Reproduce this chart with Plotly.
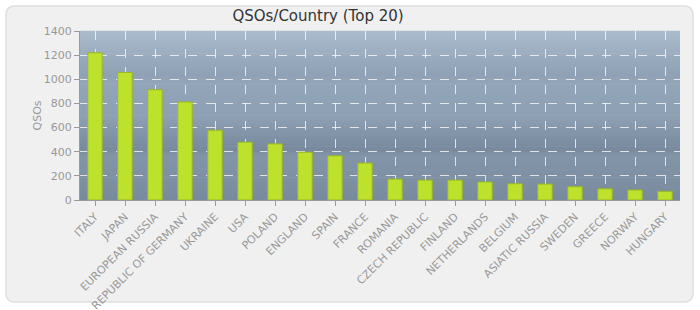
import plotly.graph_objects as go
import math

countries = ["ITALY", "JAPAN", "EUROPEAN RUSSIA", "FEDERAL REPUBLIC OF GERMANY", "UKRAINE",
             "USA", "POLAND", "ENGLAND", "SPAIN", "FRANCE", "ROMANIA", "CZECH REPUBLIC",
             "FINLAND", "NETHERLANDS", "BELGIUM", "ASIATIC RUSSIA", "SWEDEN", "GREECE",
             "NORWAY", "HUNGARY"]
qsos = [1220, 1057, 914, 812, 578, 479, 465, 396, 366, 306, 173, 165, 165, 149, 135,
        132, 110, 93, 83, 72]
y_ticks = [0, 200, 400, 600, 800, 1000, 1200, 1400]

W, H = 700, 310
L, R, T, B = 80, 20, 31, 110
pw, ph = W - L - R, H - T - B


def px(x):
    return (x - L) / pw


def py(y):
    return (H - B - y) / ph


def rounded_rect(x0, y0, x1, y1, r):
    pts = []
    corners = [(x1 - r, y0 + r, -90, 0), (x1 - r, y1 - r, 0, 90),
               (x0 + r, y1 - r, 90, 180), (x0 + r, y0 + r, 180, 270)]
    for cx, cy, a0, a1 in corners:
        for k in range(7):
            a = math.radians(a0 + (a1 - a0) * k / 6)
            pts.append((cx + r * math.cos(a), cy + r * math.sin(a)))
    return "M " + " L ".join(f"{px(x):.5f},{py(y):.5f}" for x, y in pts) + " Z"


shapes = []
shapes.append(dict(type="path", xref="paper", yref="paper", path=rounded_rect(6, 6, 693, 302, 8),
                   fillcolor="#f0f0f0", line=dict(color="#dedede", width=1.5), layer="below"))

stops = [(0.0, (0xaa, 0xbb, 0xcc)), (0.26, (0x8e, 0xa1, 0xb5)), (0.30, (0x93, 0xa5, 0xb8)),
         (0.52, (0x8d, 0x9f, 0xb2)), (0.70, (0x77, 0x89, 0x9d)), (0.74, (0x82, 0x94, 0xa7)),
         (0.85, (0x7f, 0x91, 0xa4)), (1.0, (0x78, 0x8a, 0x9d))]


def col_at(t):
    for (t0, c0), (t1, c1) in zip(stops[:-1], stops[1:]):
        if t0 <= t <= t1:
            f = (t - t0) / (t1 - t0) if t1 > t0 else 0
            return "rgb(%d,%d,%d)" % tuple(round(a + (b - a) * f) for a, b in zip(c0, c1))
    return "rgb(%d,%d,%d)" % stops[-1][1]


n = 60
for i in range(n):
    t = (i + 0.5) / n
    shapes.append(dict(type="rect", xref="x domain", yref="y domain", x0=0, x1=1,
                       y0=1 - (i + 1) / n - 0.002, y1=1 - i / n + 0.002,
                       fillcolor=col_at(t), line=dict(width=0), layer="below"))

fig = go.Figure(go.Bar(
    x=countries, y=qsos, width=0.48,
    marker=dict(color="#bce22b", line=dict(color="#9db526", width=1)),
))

fig.update_layout(
    width=W, height=H,
    margin=dict(l=L, r=R, t=T, b=B, autoexpand=False),
    paper_bgcolor="white", plot_bgcolor="#8d9fb2",
    shapes=shapes,
    showlegend=False,
    font=dict(family="DejaVu Sans, Verdana, sans-serif", size=11, color="#999999"),
    title=dict(text="QSOs/Country (Top 20)", x=318 / W, xanchor="center", y=1 - 16 / H,
               yanchor="middle", font=dict(size=15, color="#333333")),
    annotations=[dict(text="QSOs", textangle=-90, xref="paper", yref="paper",
                      x=px(37), y=0.5, xanchor="center", yanchor="middle", showarrow=False,
                      font=dict(size=11, color="#999999"))],
)
fig.update_xaxes(
    automargin=False,
    tickangle=-45, showline=True, linecolor="#9a9a9a", linewidth=1,
    ticks="outside", ticklen=5, tickcolor="#9a9a9a",
    showgrid=True, gridcolor="rgba(255,255,255,0.75)", griddash="dash", gridwidth=1,
    tickfont=dict(size=11, color="#999999"), range=[-0.5, 19.5],
)
fig.update_yaxes(
    automargin=False,
    range=[0, 1400], tickvals=y_ticks, showline=True, linecolor="#9a9a9a", linewidth=1,
    ticks="outside", ticklen=5, tickcolor="#9a9a9a",
    showgrid=True, gridcolor="rgba(255,255,255,0.75)", griddash="dash", gridwidth=1,
    zeroline=False, tickfont=dict(size=11, color="#999999"),
)

fig.write_html("out.html")
